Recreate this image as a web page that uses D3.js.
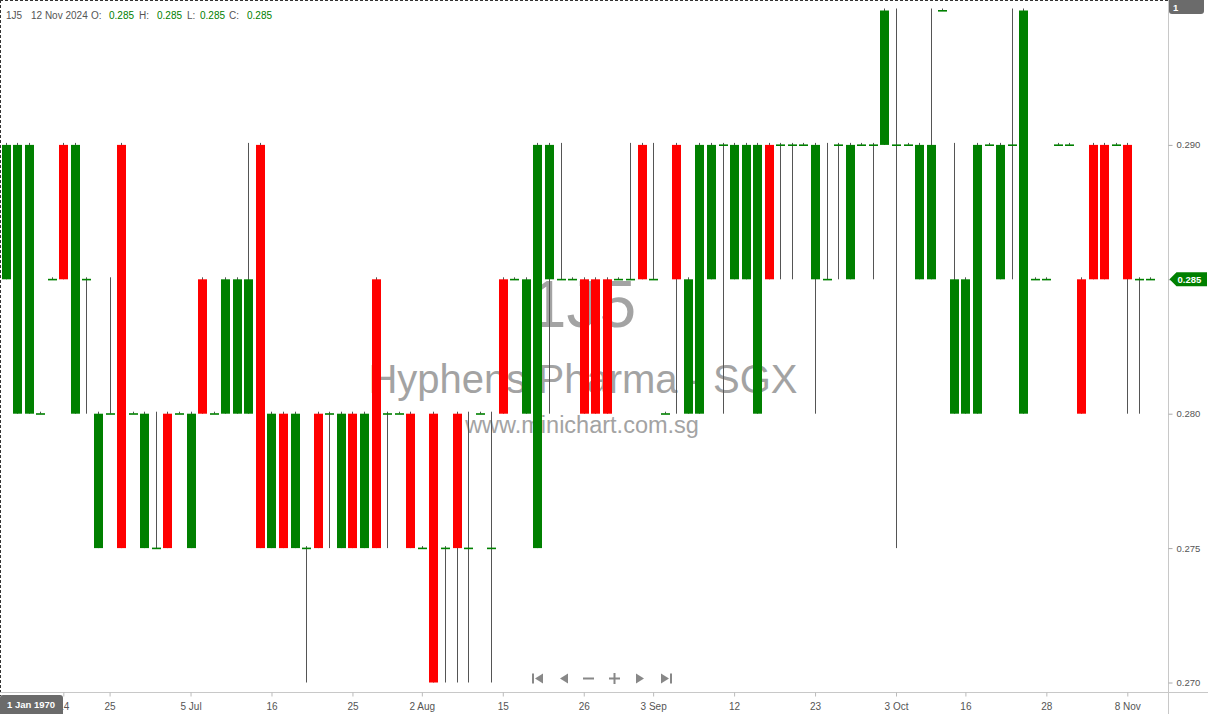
<!DOCTYPE html>
<html><head><meta charset="utf-8">
<script src="https://cdn.jsdelivr.net/npm/d3@7"></script>
<style>html,body{margin:0;padding:0;background:#fff;}svg{display:block;}</style>
</head><body>
<svg id="c" width="1208" height="714"></svg>
<script>
const opens  = [.285,.280,.280,.280,.285,.290,.280,.285,.275,.280,.290,.280,.275,.275,.280,.280,.275,.285,.280,.280,
                .280,.280,.290,.275,.280,.275,.275,.280,.280,.275,.280,.275,.285,.280,.280,.280,.275,.280,.275,.280,
                .275,.280,.275,.285,.285,.280,.275,.285,.285,.285,.285,.285,.285,.285,.285,.290,.285,.280,.290,.280,
                .280,.285,.290,.285,.285,.280,.290,.290,.290,.290,.285,.285,.290,.285,.290,.290,.290,.290,.290,.285,
                .285,.295,.280,.280,.280,.290,.285,.290,.280,.285,.285,.290,.290,.285,.290,.290,.290,.290,.285,.285];
const highs  = [.290,.290,.290,.280,.285,.290,.290,.285,.280,.285,.290,.280,.280,.280,.280,.280,.280,.285,.280,.285,
                .285,.290,.290,.280,.280,.280,.275,.280,.280,.280,.280,.280,.285,.280,.280,.280,.275,.280,.275,.280,
                .280,.280,.280,.285,.285,.285,.290,.290,.290,.285,.285,.285,.285,.285,.290,.290,.290,.280,.290,.285,
                .290,.290,.290,.290,.290,.290,.290,.290,.290,.290,.290,.290,.290,.290,.290,.290,.295,.295,.290,.290,
                .295,.295,.290,.285,.290,.290,.290,.295,.295,.285,.285,.290,.290,.285,.290,.290,.290,.290,.285,.285];
const lows   = [.285,.280,.280,.280,.285,.285,.280,.280,.275,.280,.275,.280,.275,.275,.275,.280,.275,.280,.280,.280,
                .280,.280,.275,.275,.275,.275,.270,.275,.275,.275,.275,.275,.275,.275,.280,.275,.275,.270,.270,.270,
                .270,.280,.270,.280,.285,.280,.275,.280,.285,.285,.280,.280,.280,.285,.285,.285,.285,.280,.280,.280,
                .280,.285,.280,.285,.285,.280,.285,.285,.285,.290,.280,.285,.285,.285,.290,.285,.290,.275,.290,.285,
                .285,.295,.280,.280,.280,.290,.285,.285,.280,.285,.285,.290,.290,.280,.285,.285,.290,.280,.280,.285];
const closes = [.290,.290,.290,.280,.285,.285,.290,.285,.280,.280,.275,.280,.280,.275,.275,.280,.280,.280,.280,.285,
                .285,.285,.275,.280,.275,.280,.275,.275,.280,.280,.275,.280,.275,.280,.280,.275,.275,.270,.275,.275,
                .275,.280,.275,.280,.285,.285,.290,.290,.285,.285,.280,.280,.280,.285,.285,.285,.285,.280,.285,.285,
                .290,.290,.290,.290,.290,.290,.285,.290,.290,.290,.290,.285,.290,.290,.290,.290,.295,.290,.290,.290,
                .290,.295,.285,.285,.290,.290,.290,.290,.295,.285,.285,.290,.290,.280,.285,.285,.290,.285,.285,.285];
const priceTicks = [0.290, 0.285, 0.280, 0.275, 0.270];
const dateTickIdx = [5, 9, 16, 23, 30, 36, 43, 50, 56, 63, 70, 77, 83, 90, 97];
const dateTickLbl = ["14","25","5 Jul","16","25","2 Aug","15","26","3 Sep","12","23","3 Oct","16","28","8 Nov"];
const symbol = "1J5", company = "Hyphens Pharma - SGX", site = "www.minichart.com.sg";
const lastDate = "12 Nov 2024";

const svg = d3.select("#c");
const FONT = "'Liberation Sans', Arial, sans-serif";
const n = opens.length;
const x = d3.scaleLinear().domain([0, n - 1]).range([5.5, 5.5 + 11.565 * (n - 1)]);
const y = d3.scaleLinear().domain([0.270, 0.295]).range([682.5, 10.5]);
const plotR = 1168.5, axisY = 692.5;
const GREEN = "#008000", RED = "#ff0000";

// watermark
const wm = svg.append("g").attr("fill", "#a3a3a3").attr("font-family", FONT).attr("text-anchor", "middle");
wm.append("text").attr("x", 583).attr("y", 327).attr("font-size", 66).text(symbol);
wm.append("text").attr("x", 583).attr("y", 393).attr("font-size", 40).text(company);
wm.append("text").attr("x", 582).attr("y", 433).attr("font-size", 23.5).text(site);

// candles
const data = d3.range(n).map(i => ({i, o: opens[i], h: highs[i], l: lows[i], c: closes[i]}));
const cg = svg.append("g");
cg.selectAll("line.wick").data(data).join("line")
  .attr("x1", d => Math.round(x(d.i)) + 0.5).attr("x2", d => Math.round(x(d.i)) + 0.5)
  .attr("y1", d => y(d.h) - 2).attr("y2", d => y(d.l))
  .attr("stroke", "#555").attr("stroke-width", 1);
const bw = 9;
cg.selectAll("rect.body").data(data).join("rect")
  .attr("x", d => Math.round(x(d.i)) - 4)
  .attr("width", bw)
  .attr("y", d => d.o === d.c ? y(d.o) - 0.5 : y(Math.max(d.o, d.c)))
  .attr("height", d => d.o === d.c ? 1.6 : Math.abs(y(d.o) - y(d.c)))
  .attr("fill", d => d.c >= d.o ? GREEN : RED);

// borders / axes
svg.append("line").attr("x1", 0).attr("x2", plotR).attr("y1", 0.5).attr("y2", 0.5)
  .attr("stroke", "#333").attr("stroke-dasharray", "3,2");
svg.append("line").attr("x1", 0.5).attr("x2", 0.5).attr("y1", 0).attr("y2", 696)
  .attr("stroke", "#333").attr("stroke-dasharray", "3,2");
svg.append("line").attr("x1", plotR).attr("x2", plotR).attr("y1", 0).attr("y2", 714).attr("stroke", "#c8c8c8");
svg.append("line").attr("x1", 0).attr("x2", 1208).attr("y1", axisY).attr("y2", axisY).attr("stroke", "#c8c8c8");

// price axis
const yAxis = d3.axisRight(y).tickValues(priceTicks).tickFormat(d3.format(".3f")).tickSize(4).tickPadding(4);
const ya = svg.append("g").attr("transform", `translate(${plotR},0)`).call(yAxis);
ya.select(".domain").remove();
ya.selectAll("line").attr("stroke", "#aaa");
ya.selectAll("text").attr("font-family", FONT).attr("font-size", 9.5).attr("fill", "#555");

// x axis
const xAxis = d3.axisBottom(x).tickValues(dateTickIdx).tickFormat((d, k) => dateTickLbl[k]).tickSize(4).tickPadding(6);
const xa = svg.append("g").attr("transform", `translate(0,${axisY})`).call(xAxis);
xa.select(".domain").remove();
xa.selectAll("line").attr("stroke", "#bbb");
xa.selectAll("text").attr("font-family", FONT).attr("font-size", 10).attr("fill", "#555");

// last price marker
const lastC = closes[n - 1], ly = y(lastC);
svg.append("path")
  .attr("d", `M${plotR + 1},${ly} L${plotR + 8},${ly - 7} L1207,${ly - 7} L1207,${ly + 7} L${plotR + 8},${ly + 7} Z`)
  .attr("fill", GREEN);
svg.append("text").attr("x", plotR + 9).attr("y", ly + 3.5).attr("font-family", FONT)
  .attr("font-size", 9.5).attr("font-weight", "bold").attr("fill", "#fff").text(d3.format(".3f")(lastC));

// top-right badge
svg.append("rect").attr("x", 1169).attr("y", -3).attr("width", 35).attr("height", 17).attr("rx", 3).attr("fill", "#6b6b6b");
svg.append("text").attr("x", 1173).attr("y", 11).attr("font-family", FONT).attr("font-size", 9.5)
  .attr("font-weight", "bold").attr("fill", "#fff").text("1");

// bottom-left badge
svg.append("rect").attr("x", 0).attr("y", 695).attr("width", 63).attr("height", 22).attr("rx", 3).attr("fill", "#6b6b6b");
svg.append("text").attr("x", 31).attr("y", 708).attr("text-anchor", "middle").attr("font-family", FONT)
  .attr("font-size", 9.5).attr("font-weight", "bold").attr("fill", "#fff").text("1 Jan 1970");

// header
const hdr = svg.append("g").attr("font-family", FONT).attr("font-size", 10);
const fmt = d3.format(".3f");
const parts = [
  {t: symbol, x: 6, c: "#555"}, {t: lastDate, x: 31, c: "#555"},
  {t: "O:", x: 91, c: "#555"}, {t: fmt(opens[n-1]), x: 109, c: GREEN},
  {t: "H:", x: 139, c: "#555"}, {t: fmt(highs[n-1]), x: 157, c: GREEN},
  {t: "L:", x: 187, c: "#555"}, {t: fmt(lows[n-1]), x: 200, c: GREEN},
  {t: "C:", x: 229, c: "#555"}, {t: fmt(closes[n-1]), x: 247, c: GREEN}
];
hdr.selectAll("text").data(parts).join("text").attr("x", d => d.x).attr("y", 18.5)
  .attr("fill", d => d.c).text(d => d.t);

// navigation icons
const nav = svg.append("g").attr("fill", "#888");
const cy = 678.5;
nav.append("rect").attr("x", 532).attr("y", cy - 5).attr("width", 2).attr("height", 10);
nav.append("path").attr("d", `M543,${cy - 5} L535,${cy} L543,${cy + 5} Z`);
nav.append("path").attr("d", `M568,${cy - 5} L560,${cy} L568,${cy + 5} Z`);
nav.append("rect").attr("x", 583).attr("y", cy - 1).attr("width", 11).attr("height", 2);
nav.append("rect").attr("x", 609).attr("y", cy - 1).attr("width", 11).attr("height", 2);
nav.append("rect").attr("x", 613.5).attr("y", cy - 5.5).attr("width", 2).attr("height", 11);
nav.append("path").attr("d", `M636,${cy - 5} L644,${cy} L636,${cy + 5} Z`);
nav.append("path").attr("d", `M661,${cy - 5} L669,${cy} L661,${cy + 5} Z`);
nav.append("rect").attr("x", 670).attr("y", cy - 5).attr("width", 2).attr("height", 10);
</script>
</body></html>
